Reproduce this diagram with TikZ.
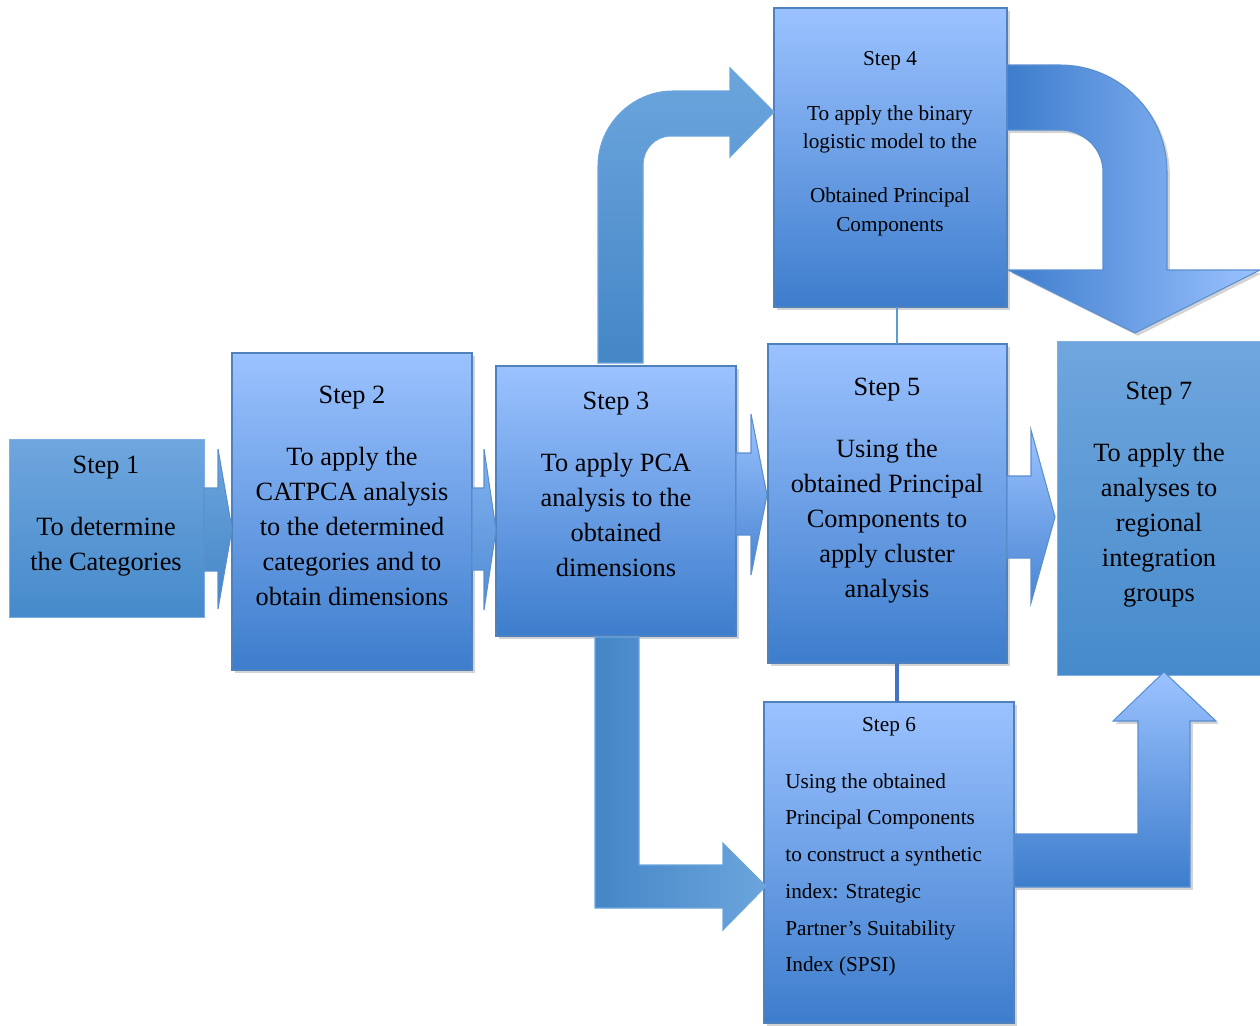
\documentclass[tikz,border=0pt]{standalone}
\usepackage{fontspec}
\setmainfont{Liberation Serif}
\usetikzlibrary{shadows,calc}
\definecolor{bxtop}{RGB}{155,194,255}
\definecolor{bxbot}{RGB}{61,125,204}
\definecolor{mtop}{RGB}{111,166,222}
\definecolor{mbot}{RGB}{70,138,203}
\definecolor{bord}{RGB}{79,129,189}
\definecolor{lightbord}{RGB}{125,175,225}
\definecolor{aline}{RGB}{90,143,208}
\definecolor{atop}{RGB}{108,165,221}
\definecolor{abot}{RGB}{68,134,198}
\definecolor{conA}{RGB}{91,155,213}
\definecolor{conB}{RGB}{68,114,196}
\begin{document}
\begin{tikzpicture}[x=0.02cm,y=-0.02cm,
  shad/.style={drop shadow={shadow xshift=1.6pt,shadow yshift=-1.6pt,opacity=0.35}},
  stepbox/.style={draw=bord, line width=0.7pt, top color=bxtop, bottom color=bxbot, shad, inner sep=0pt, outer sep=0pt},
  mutedbox/.style={draw=lightbord, line width=0.5pt, top color=mtop, bottom color=mbot, inner sep=0pt, outer sep=0pt},
  blockarrow/.style={draw=aline, line width=0.6pt},
  bigtxt/.style={font=\fontsize{15}{20}\selectfont, align=center, inner sep=0pt, anchor=north},
  smalltxt/.style={font=\fontsize{12.1}{16.4}\selectfont, align=center, inner sep=0pt, anchor=north},
  listtxt/.style={font=\fontsize{12.1}{20.9}\selectfont, align=left, inner sep=0pt, anchor=north west}
]
\useasboundingbox (0,0) rectangle (1260,1025);

% thin connecting lines
\coordinate (c45) at (897,0);
\coordinate (c56) at (897,0);

% boxes
\node[mutedbox, minimum width=3.9cm, minimum height=3.56cm] (s1) at (106.5,528) {};
\node[stepbox, minimum width=4.8cm, minimum height=6.34cm] (s2) at (352,511.5) {};
\node[stepbox, minimum width=4.8cm, minimum height=5.4cm] (s3) at (616,501) {};
\node[stepbox, minimum width=4.66cm, minimum height=5.98cm] (s4) at (890.5,157.5) {};
\node[stepbox, minimum width=4.78cm, minimum height=6.38cm] (s5) at (887.5,503.5) {};
\node[stepbox, minimum width=5cm, minimum height=6.42cm] (s6) at (889,862.5) {};
\node[mutedbox, minimum width=4.1cm, minimum height=6.68cm] (s7) at (1159.5,508) {};

\draw[conA, line width=1.1pt] (s4.south -| c45) -- (s5.north -| c45);
\draw[conB, line width=2.6pt] (s5.south -| c56) -- (s6.north -| c56);

% straight block arrows
\shadedraw[blockarrow, top color=atop, bottom color=abot]
  (204,488) -- (218,488) -- (218,449) -- (232,529) -- (218,609) -- (218,571) -- (204,571) -- cycle;
\shadedraw[blockarrow, top color={rgb,255:red,130;green,178;blue,240}, bottom color={rgb,255:red,80;green,140;blue,212}]
  (472,488) -- (484,488) -- (484,449) -- (496,530) -- (484,610) -- (484,570) -- (472,570) -- cycle;
\shadedraw[blockarrow, top color=bxtop, bottom color={rgb,255:red,72;green,133;blue,210}]
  (736,453) -- (751,453) -- (751,414) -- (767,495) -- (751,575) -- (751,535) -- (736,535) -- cycle;
\shadedraw[blockarrow, top color=bxtop, bottom color={rgb,255:red,72;green,133;blue,210}]
  (1007,476) -- (1031,476) -- (1031,430) -- (1055,517) -- (1031,603) -- (1031,558) -- (1007,558) -- cycle;

% bent arrow step 3 -> step 4
\shadedraw[blockarrow, draw=atop, top color=atop, bottom color=abot]
  (598,363) -- (598,166) .. controls (598,125) and (632,91) .. (673,91) -- (730,91) -- (730,68)
  -- (774,112) -- (730,157) -- (730,136) -- (671,136) .. controls (655,136) and (643,149) .. (643,165)
  -- (643,363) -- cycle;

% bent arrow step 3 -> step 6
\shadedraw[blockarrow, draw=atop, left color=abot, right color=atop]
  (595,637) -- (639,637) -- (639,865) -- (723,865) -- (723,843) -- (766,886) -- (723,930) -- (723,908)
  -- (595,908) -- cycle;

% curved arrow step 4 -> step 7
\shadedraw[blockarrow, left color=bxbot, right color=bxtop, shad]
  (1007,65) -- (1060,65) .. controls (1119,65) and (1167,113) .. (1167,172) -- (1167,270)
  -- (1260,270) -- (1135,333) -- (1008,270) -- (1103,270) -- (1103,172)
  .. controls (1103,149) and (1084,130) .. (1060,130) -- (1007,130) -- cycle;

% bent arrow step 6 -> step 7
\shadedraw[blockarrow, top color=bxtop, bottom color=bxbot, shad]
  (1014,834) -- (1138,834) -- (1138,721) -- (1113,721) -- (1164,672) -- (1216,721) -- (1190,721)
  -- (1190,887) -- (1014,887) -- cycle;

% texts
\node[bigtxt] (t1) at (106,456) {Step 1\\[15pt]To determine\\the Categories};
\node[bigtxt] (t2) at (352,386) {Step 2\\[15pt]To apply the\\CATPCA analysis\\to the determined\\categories and to\\obtain dimensions};
\node[bigtxt] (t3) at (616,392) {Step 3\\[15pt]To apply PCA\\analysis to the\\obtained\\dimensions};
\node[smalltxt] (t4) at (890,51) {Step 4\\[14.7pt]To apply the binary\\logistic model to the\\[14.2pt]Obtained Principal\\Components};
\node[bigtxt] (t5) at (887,378) {Step 5\\[15pt]Using the\\obtained Principal\\Components to\\apply cluster\\analysis};
\node[smalltxt] (t6a) at (889,717) {Step 6};
\node[listtxt] (t6b) at (785,773) {Using the obtained\\Principal Components\\to construct a synthetic\\index: Strategic\\Partner’s Suitability\\Index (SPSI)};
\node[bigtxt] (t7) at (1159,382) {Step 7\\[15pt]To apply the\\analyses to\\regional\\integration\\groups};
\end{tikzpicture}
\end{document}
